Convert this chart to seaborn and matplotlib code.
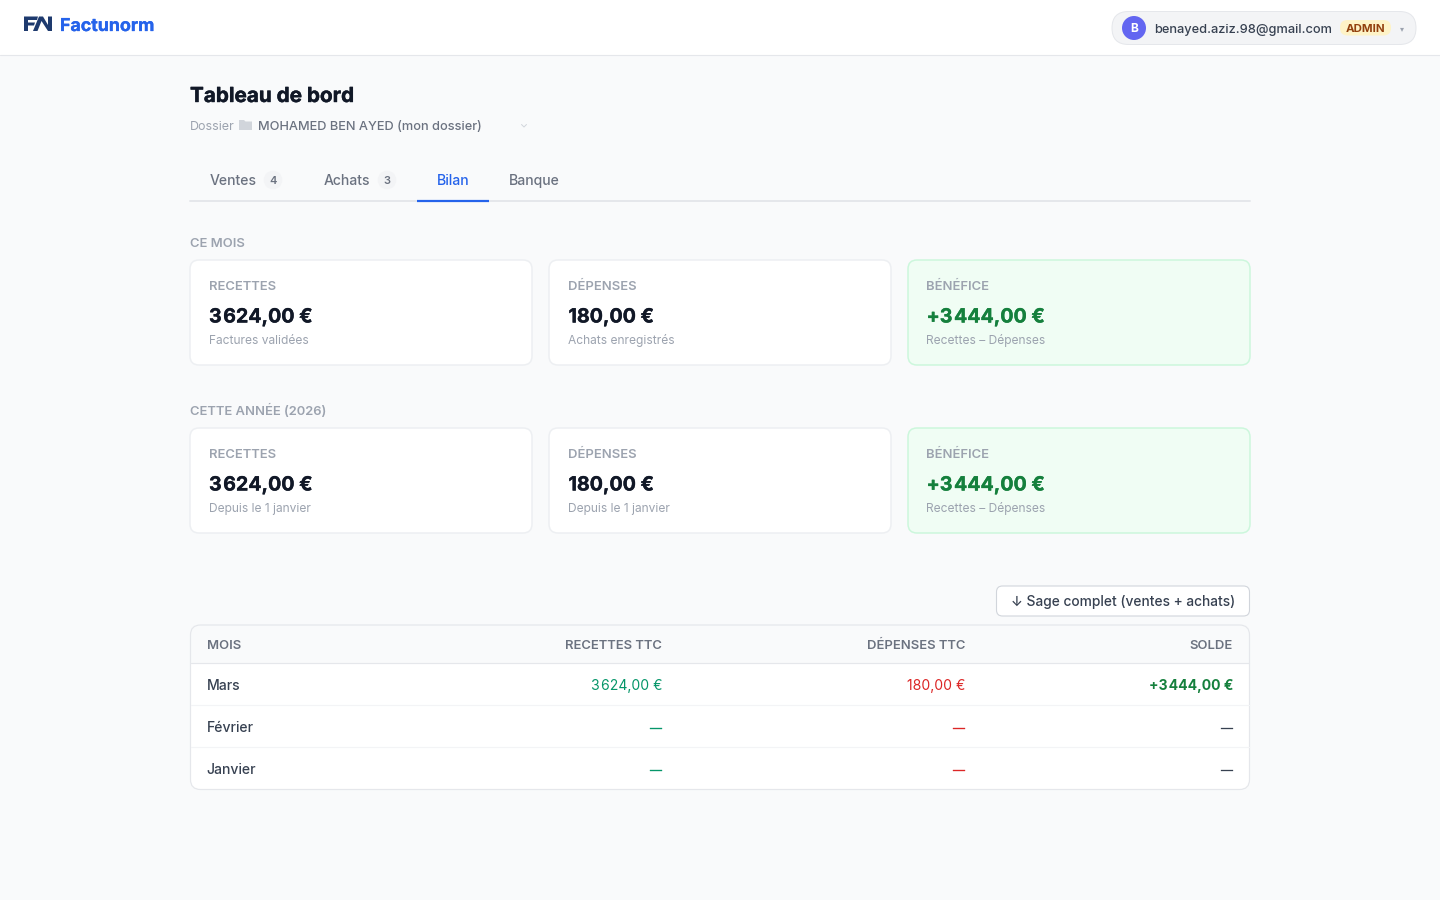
import pandas as pd
import seaborn as sns
import matplotlib
matplotlib.use("Agg")
import matplotlib.pyplot as plt
import matplotlib.patheffects as pe
from matplotlib.patches import FancyBboxPatch, Circle, Polygon, Rectangle

brand = "Factunorm"
user_email = "benayed.aziz.98@gmail.com"
user_role = "ADMIN"
page_title = "Tableau de bord"
folder_name = "MOHAMED BEN AYED (mon dossier)"

tab_names = ["Ventes", "Achats", "Bilan", "Banque"]
tab_counts = ["4", "3", "", ""]

section_titles = ["CE MOIS", "CETTE ANNÉE (2026)"]
card_labels = ["RECETTES", "DÉPENSES", "BÉNÉFICE"]
card_values = ["3\u200a624,00 €", "180,00 €", "+3\u200a444,00 €"]
month_subs = ["Factures validées", "Achats enregistrés", "Recettes – Dépenses"]
year_subs = ["Depuis le 1 janvier", "Depuis le 1 janvier", "Recettes – Dépenses"]

table_columns = ["MOIS", "RECETTES TTC", "DÉPENSES TTC", "SOLDE"]
months = ["Mars", "Février", "Janvier"]
recettes = ["3\u200a624,00 €", "—", "—"]
depenses = ["180,00 €", "—", "—"]
soldes = ["+3\u200a444,00 €", "—", "—"]

export_label = "↓ Sage complet (ventes + achats)"

sns.set_theme(style="white")
plt.rcParams["font.family"] = ["Inter", "Noto Sans", "DejaVu Sans"]

fig, ax = plt.subplots(figsize=(14.4, 9), dpi=100)
fig.subplots_adjust(left=0, right=1, top=1, bottom=0)
ax.set_xlim(0, 1440)
ax.set_ylim(900, 0)
ax.set_xticks([])
ax.set_yticks([])
sns.despine(ax=ax, left=True, bottom=True)
ax.set_facecolor("#f9fafb")


def px(size):
    return size * 72 / 100


def label(x, y, s, size, color, weight="normal", ha="left", thick=0):
    t = ax.text(x, y, s, fontsize=px(size), color=color, fontweight=weight, ha=ha, va="baseline")
    if thick:
        # the browser bold is a bit heavier than what matplotlib gets
        t.set_path_effects([pe.withStroke(linewidth=thick, foreground=color)])
    return t


def box(x0, y0, x1, y1, radius, face, edge, lw=1.0):
    p = FancyBboxPatch((x0, y0), x1 - x0, y1 - y0, boxstyle=f"round,pad=0,rounding_size={radius}",
                       facecolor=face, edgecolor=edge, linewidth=lw * 0.72)
    ax.add_patch(p)
    return p


# top bar
ax.add_patch(Rectangle((0, 0), 1440, 55, facecolor="white", edgecolor="none"))
ax.plot([0, 1440], [55, 55], color="#e5e7eb", lw=0.8)
navy = "#1e3a6e"
ax.add_patch(Polygon([(24, 16.5), (38, 16.5), (37, 20), (28, 20), (28, 22.5), (35, 22.5), (34, 25.5), (28, 25.5), (28, 31), (24, 31)], color=navy, lw=0))
ax.add_patch(Polygon([(33, 31), (39, 16.5), (43, 16.5), (48, 25), (48, 16.5), (52, 16.5), (52, 31), (48, 31), (41.5, 21), (37.5, 31)], color=navy, lw=0))
label(60, 31, brand, 17.8, "#2563eb", "bold", thick=0.2)

box(1112, 11.5, 1416, 44.5, 16.5, "#f3f4f6", "#e5e7eb")
ax.add_patch(Circle((1134, 28), 12, color="#6366f1", lw=0))
label(1134, 32.5, "B", 12, "white", "bold", ha="center")
label(1154.5, 33, user_email, 12.8, "#374151", "medium")
box(1340, 20, 1391, 35.5, 7.5, "#fef3c7", "none")
label(1365.5, 32, user_role, 11.5, "#92400e", "bold", ha="center")
label(1402, 31, "▾", 8, "#9ca3af", ha="center")

# title and folder
label(190, 102, page_title, 20.7, "#111827", "bold", thick=0.3)
label(190, 130, "Dossier", 12.5, "#9ca3af")
ax.add_patch(Polygon([(239, 120), (244, 120), (245.5, 121.5), (252, 121.5), (252, 130), (239, 130)], color="#d1d5db", lw=0))
label(258, 130, folder_name, 12.8, "#6b7280", "medium")
ax.plot([521.5, 524, 526.5], [124.5, 127, 124.5], color="#d1d5db", lw=0.7)

# tabs
ax.plot([190, 1250], [200.8, 200.8], color="#e5e7eb", lw=1.4)
tab_x = [210, 324, 437, 509]
badge_x = [273, 387]
for i, name in enumerate(tab_names):
    color = "#2563eb" if name == "Bilan" else "#6b7280"
    label(tab_x[i], 185, name, 14, color, "medium")
    if tab_counts[i]:
        ax.add_patch(Circle((badge_x[i], 180), 9.3, color="#f3f4f6", lw=0))
        label(badge_x[i], 184, tab_counts[i], 11, "#6b7280", "semibold", ha="center")
ax.plot([417, 489], [201, 201], color="#2563eb", lw=1.6, solid_capstyle="butt")

# summary cards
card_x = [190, 549, 908]
card_text_x = [209, 568.5, 926.5]
for row, (top, subs) in enumerate([(260, month_subs), (428, year_subs)]):
    label(190, top - 13, section_titles[row], 13, "#9ca3af", "semibold")
    for i, x0 in enumerate(card_x):
        highlight = i == 2
        box(x0, top, x0 + 342, top + 105, 9, "#f0fdf4" if highlight else "white",
            "#ccf7dc" if highlight else "#edeff2", lw=1.5)
        label(card_text_x[i] - 0.5, top + 30, card_labels[i], 13, "#9ca3af", "semibold")
        label(card_text_x[i], top + 62.5, card_values[i], 19.6, "#15803d" if highlight else "#111827", "bold", thick=0.25)
        label(card_text_x[i], top + 84, subs[i], 12, "#9ca3af")

# export button
box(996.5, 586, 1249.5, 616, 6, "white", "#d1d5db", lw=1.1)
label(1011, 606, export_label, 13.8, "#374151", "medium")

# table
table = pd.DataFrame({"mois": months, "recettes": recettes, "depenses": depenses, "solde": soldes})
outline = box(190.5, 625, 1249.5, 789.5, 10, "white", "none")
header = Rectangle((190, 625), 1060, 38, facecolor="#f9fafb", edgecolor="none")
ax.add_patch(header)
header.set_clip_path(outline)
ax.plot([191, 1249], [663, 663], color="#e5e7eb", lw=0.85)
ax.plot([191, 1249], [705, 705], color="#f3f4f6", lw=0.85)
ax.plot([191, 1249], [747, 747], color="#f3f4f6", lw=0.85)
box(190.5, 625, 1249.5, 789.5, 10, "none", "#e5e7eb", lw=1.2)

column_right = [207, 662, 965, 1233]
label(206.5, 649, table_columns[0], 13, "#6b7280", "semibold")
for j in range(1, 4):
    label(column_right[j], 649, table_columns[j], 13, "#6b7280", "semibold", ha="right")
for r, row in table.iterrows():
    y = 690 + 42 * r
    label(206.5 if r == 2 else 207, y, row["mois"], 14, "#374151", "medium")
    if r == 0:
        label(662.5, y, row["recettes"], 14, "#059669", ha="right")
        label(965, y, row["depenses"], 14, "#dc2626", ha="right")
        label(1233.5, y, row["solde"], 14, "#15803d", "bold", ha="right")
    else:
        # dashes need a little stroke or they fade out at this size
        label(661.7, y + 0.3, row["recettes"], 12, "#059669", ha="right", thick=0.25)
        label(964.7, y + 0.3, row["depenses"], 12, "#dc2626", ha="right", thick=0.25)
        label(1232.7, y + 0.3, row["solde"], 12, "#374151", "bold", ha="right", thick=0.2)

fig.savefig("out.png", dpi=100, facecolor="#f9fafb")
